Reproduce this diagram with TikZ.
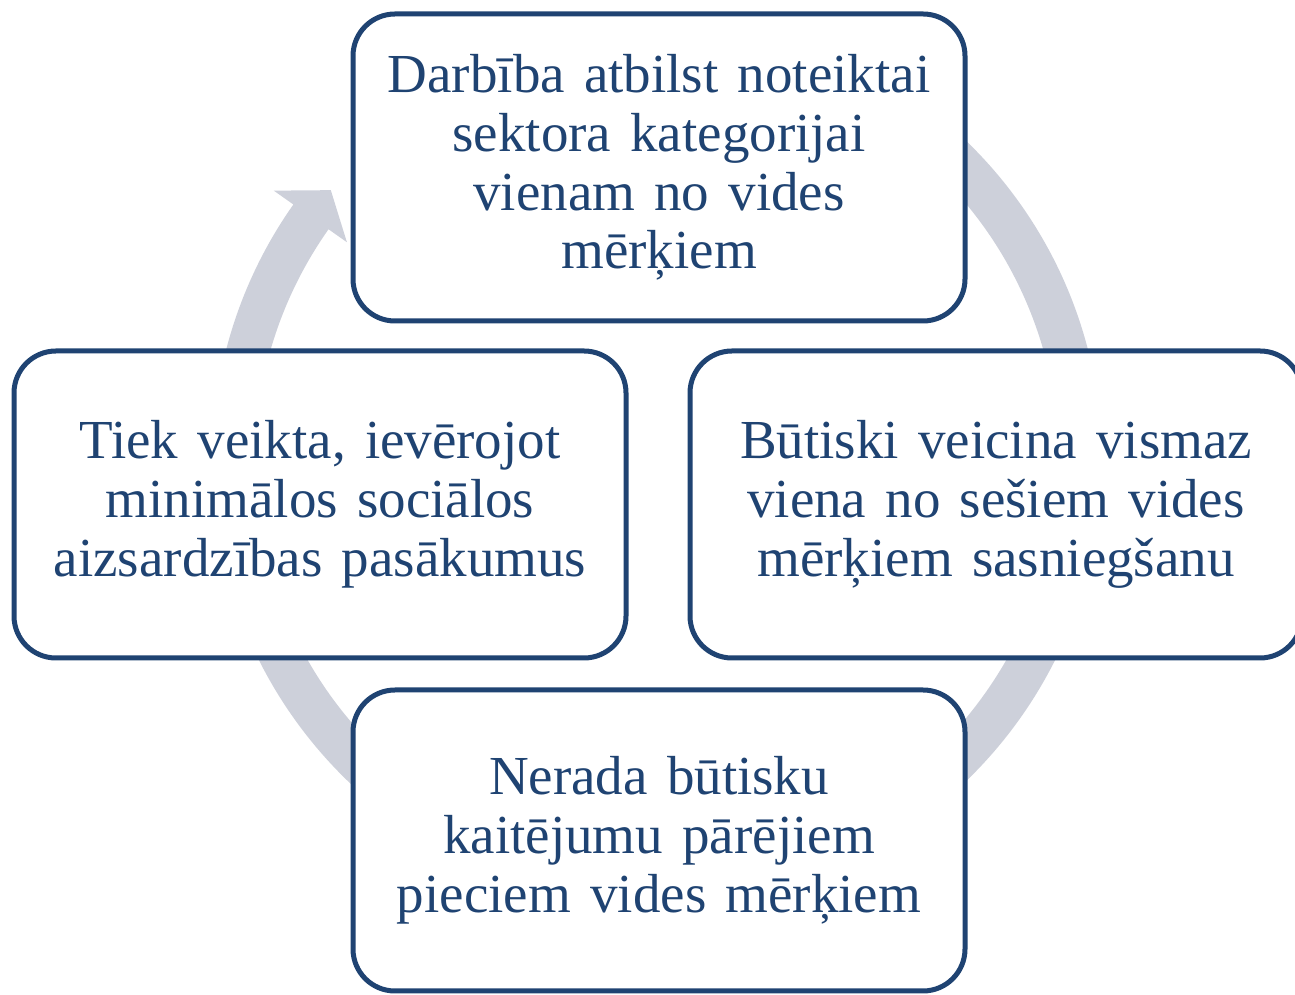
\documentclass[tikz,border=0pt]{standalone}
\usepackage{fontspec}
\setmainfont{Liberation Serif}
\usetikzlibrary{calc}
\definecolor{boxblue}{RGB}{31,67,114}
\definecolor{ringgray}{RGB}{205,208,218}
\newcommand{\boxfont}{\fontsize{27.5}{29.4}\selectfont\spaceskip=9.6pt plus 2pt minus 1pt\relax}
\tikzset{
  cyclebox/.style={draw=boxblue, line width=2.5pt, fill=white, rounded corners=21pt,
    minimum width=306pt, minimum height=153.5pt, inner sep=0pt, align=center,
    text=boxblue, font=\boxfont},
  ringfill/.style={fill=ringgray, draw=none}
}
\begin{document}
\begin{tikzpicture}[x=0.5pt, y=0.5pt]
\useasboundingbox (0,0) rectangle (1295,995);
\coordinate (c) at (657,534);
% circular arrow
\fill[ringfill] ($(c)+(450:445)$) arc[start angle=450, end angle=144.8, radius=445]
  -- ($(c)+(144.8:469)$) -- ($(c)+(140.3:424)$) -- ($(c)+(144.8:379.5)$)
  -- ($(c)+(144.8:402)$) arc[start angle=144.8, end angle=450, radius=402] -- cycle;
% boxes
\node[cyclebox] (top) at (659,827.5) {Darbība atbilst noteiktai\\sektora kategorijai\\vienam no vides\\mērķiem};
\node[cyclebox] (right) at (996,490.5) {Būtiski veicina vismaz\\viena no sešiem vides\\mērķiem sasniegšanu};
\node[cyclebox, minimum height=150.5pt] (bottom) at (659,154.5) {Nerada būtisku\\kaitējumu pārējiem\\pieciem vides mērķiem};
\node[cyclebox] (left) at (320,490.5) {Tiek veikta, ievērojot\\minimālos sociālos\\aizsardzības pasākumus};
\end{tikzpicture}
\end{document}
